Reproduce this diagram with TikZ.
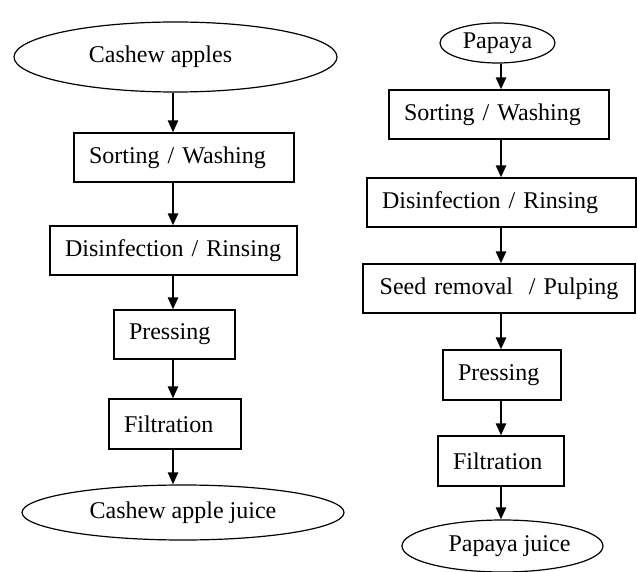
\documentclass[tikz,border=0pt]{standalone}
\usepackage{fontspec}
\setmainfont{Liberation Serif}
\usetikzlibrary{shapes.geometric,arrows.meta}
\tikzset{
  stepbox/.style={draw,line width=0.6pt,minimum height=24.5pt,inner xsep=7.5pt,text width=#1,align=left},
  endnode/.style={draw,ellipse,line width=0.6pt,inner sep=0pt},
  flow/.style={line width=1.25pt,-{Triangle[width=5pt,length=6pt]}}
}
\begin{document}
\begin{tikzpicture}[x=0.5pt,y=-0.5pt,font=\fontsize{12}{14}\selectfont]
	\useasboundingbox (0,0) rectangle (637,572);
	\coordinate (laxis) at (173,0);
	\coordinate (raxis) at (501,0);

	\node (cashew) at (175.5,57)[endnode,minimum width=161.5pt,minimum height=35pt]{Cashew apples\hspace*{15pt}};
	\node (sortL) at (184,157.5)[stepbox=95pt]{Sorting / Washing};
	\node (disL) at (173.5,250.5)[stepbox=108.5pt]{Disinfection / Rinsing};
	\node (pressL) at (174.5,334.5)[stepbox=45.5pt]{Pressing};
	\node (filtL) at (175,424)[stepbox=51pt,minimum height=25pt]{Filtration};
	\node (cjuice) at (183,512.5)[endnode,minimum width=161pt,minimum height=27.5pt]{Cashew apple juice};

	\node (papaya) at (497.5,43)[endnode,minimum width=57.5pt,minimum height=20pt]{Papaya};
	\node (sortR) at (499,114.5)[stepbox=95pt]{Sorting / Washing};
	\node (disR) at (501.5,202.5)[stepbox=119.5pt]{Disinfection / Rinsing};
	\node (seedR) at (499,288.5)[stepbox=121pt,align=center]{Seed removal \ / Pulping};
	\node (pressR) at (502,375)[stepbox=44pt,minimum height=25pt]{Pressing};
	\node (filtR) at (501,461)[stepbox=48pt,minimum height=25pt]{Filtration};
	\node (pjuice) at (502.5,546)[endnode,minimum width=100.5pt,minimum height=26pt]{\hspace*{7pt}Papaya juice};

	\draw[flow] (cashew.south -| laxis) -- (sortL.north -| laxis);
	\draw[flow] (sortL.south -| laxis) -- (disL.north -| laxis);
	\draw[flow] (disL.south -| laxis) -- (pressL.north -| laxis);
	\draw[flow] (pressL.south -| laxis) -- (filtL.north -| laxis);
	\draw[flow] (filtL.south -| laxis) -- (cjuice.north -| laxis);

	\draw[flow] (papaya.south -| raxis) -- (sortR.north -| raxis);
	\draw[flow] (sortR.south -| raxis) -- (disR.north -| raxis);
	\draw[flow] (disR.south -| raxis) -- (seedR.north -| raxis);
	\draw[flow] (seedR.south -| raxis) -- (pressR.north -| raxis);
	\draw[flow] (pressR.south -| raxis) -- (filtR.north -| raxis);
	\draw[flow] (filtR.south -| raxis) -- (pjuice.north -| raxis);
\end{tikzpicture}
\end{document}
